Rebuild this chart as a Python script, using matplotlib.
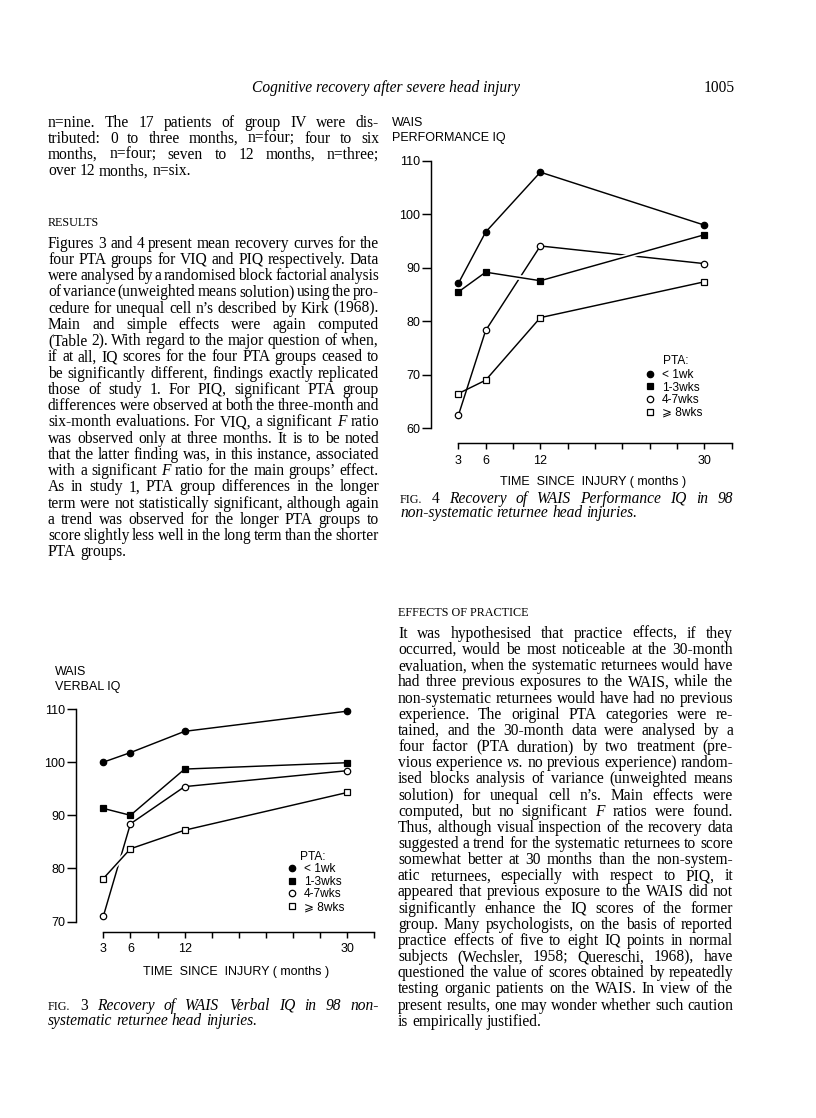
import matplotlib
matplotlib.use('Agg')
import matplotlib.pyplot as plt
from matplotlib.lines import Line2D
import matplotlib.patheffects as pe

# ---- chart data ----
months = [3, 6, 12, 30]
group_labels = ['< 1wk', '1-3wks', '4-7wks', '\u2a7e 8wks']

# Fig 4: WAIS performance IQ
piq_lt1 = [87.1, 96.7, 107.9, 98.0]
piq_1to3 = [85.5, 89.2, 87.6, 96.2]
piq_4to7 = [62.4, 78.3, 94.1, 90.8]
piq_ge8 = [66.5, 69.0, 80.7, 87.4]

# Fig 3: WAIS verbal IQ
viq_lt1 = [100.0, 101.8, 105.8, 109.6]
viq_1to3 = [91.3, 90.0, 98.7, 99.9]
viq_4to7 = [71.0, 88.4, 95.4, 98.4]
viq_ge8 = [78.1, 83.7, 87.2, 94.3]

x_ticks = [3, 6, 9, 12, 15, 18, 21, 24, 27, 30, 33]
x_ticklabels = ['3', '6', '', '12', '', '', '', '', '', '30', '']

# ---- page text ----
header = 'Cognitive recovery after severe head injury'
page_no = '1005'

left_top = [
    'n=nine. The 17 patients of group IV were dis-',
    'tributed: 0 to three months, n=four; four to six',
    'months, n=four; seven to 12 months, n=three;',
    'over 12 months, n=six.',
]
results = [
    'Figures 3 and 4 present mean recovery curves for the',
    'four PTA groups for VIQ and PIQ respectively. Data',
    'were analysed by a randomised block factorial analysis',
    'of variance (unweighted means solution) using the pro-',
    'cedure for unequal cell n\u2019s described by Kirk (1968).',
    'Main and simple effects were again computed',
    '(Table 2). With regard to the major question of when,',
    'if at all, IQ scores for the four PTA groups ceased to',
    'be significantly different, findings exactly replicated',
    'those of study 1. For PIQ, significant PTA group',
    'differences were observed at both the three-month and',
    'six-month evaluations. For VIQ, a significant *F* ratio',
    'was observed only at three months. It is to be noted',
    'that the latter finding was, in this instance, associated',
    'with a significant *F* ratio for the main groups\u2019 effect.',
    'As in study 1, PTA group differences in the longer',
    'term were not statistically significant, although again',
    'a trend was observed for the longer PTA groups to',
    'score slightly less well in the long term than the shorter',
    'PTA groups.',
]
practice = [
    'It was hypothesised that practice effects, if they',
    'occurred, would be most noticeable at the 30-month',
    'evaluation, when the systematic returnees would have',
    'had three previous exposures to the WAIS, while the',
    'non-systematic returnees would have had no previous',
    'experience. The original PTA categories were re-',
    'tained, and the 30-month data were analysed by a',
    'four factor (PTA duration) by two treatment (pre-',
    'vious experience *vs.* no previous experience) random-',
    'ised blocks analysis of variance (unweighted means',
    'solution) for unequal cell n\u2019s. Main effects were',
    'computed, but no significant *F* ratios were found.',
    'Thus, although visual inspection of the recovery data',
    'suggested a trend for the systematic returnees to score',
    'somewhat better at 30 months than the non-system-',
    'atic returnees, especially with respect to PIQ, it',
    'appeared that previous exposure to the WAIS did not',
    'significantly enhance the IQ scores of the former',
    'group. Many psychologists, on the basis of reported',
    'practice effects of five to eight IQ points in normal',
    'subjects (Wechsler, 1958; Quereschi, 1968), have',
    'questioned the value of scores obtained by repeatedly',
    'testing organic patients on the WAIS. In view of the',
    'present results, one may wonder whether such caution',
    'is empirically justified.',
]
cap4 = ['%FIG.% #4# Recovery of WAIS Performance IQ in 98',
        'non-systematic returnee head injuries.']
cap3 = ['%FIG.% #3# Recovery of WAIS Verbal IQ in 98 non-',
        'systematic returnee head injuries.']

W, H = 816, 1118
SERIF = 'Liberation Serif'
SANS = ['Liberation Sans', 'DejaVu Sans']
BODY = 11.2
CHART = 9.0
LEGEND = 8.6
BASE = 4.6  # line centre -> baseline, px

fig = plt.figure(figsize=(W / 100, H / 100), dpi=100)
page = fig.add_axes([0, 0, 1, 1])
page.set_xlim(0, W)
page.set_ylim(H, 0)
page.axis('off')
renderer = fig.canvas.get_renderer()


def px_axes(l, t, r, b):
    return fig.add_axes([l / W, 1 - b / H, (r - l) / W, (b - t) / H])


def set_line(x0, x1, y, line, justify=True, size=BODY, style='normal'):
    texts, widths = [], []
    for w in line.split(' '):
        st, sz = style, size
        if w.startswith('*') and w.endswith('*'):
            w, st = w[1:-1], 'italic'
        elif w.startswith('#') and w.endswith('#'):
            w, st = w[1:-1], 'normal'
        elif w.startswith('%') and w.endswith('%'):
            w, st, sz = w[1:-1], 'normal', size * 0.78
        t = page.text(0, y + BASE, w, fontsize=sz, family=SERIF, style=st,
                      va='baseline', ha='left', color='black')
        texts.append(t)
        widths.append(t.get_window_extent(renderer).width)
    space = size * 100 / 72 * 0.25
    if justify and len(texts) > 1:
        gap = (x1 - x0 - sum(widths)) / (len(texts) - 1)
    else:
        gap = space
    x = x0
    for t, w in zip(texts, widths):
        t.set_x(x)
        x += w + gap


def set_block(x0, x1, y0, dy, lines, style='normal'):
    for i, ln in enumerate(lines):
        set_line(x0, x1, y0 + i * dy, ln, justify=(i < len(lines) - 1), style=style)


LX0, LX1 = 48, 379
RX0, RX1 = 398, 733

page.text(520, 87 + BASE, header, fontsize=BODY, family=SERIF, style='italic',
          ha='right', va='baseline')
page.text(735, 87 + BASE, page_no, fontsize=BODY, family=SERIF, ha='right', va='baseline')

set_block(LX0, LX1, 122, 16.2, left_top)
page.text(LX0, 222 + BASE - 0.5, 'RESULTS', fontsize=BODY * 0.78, family=SERIF, va='baseline')
set_block(LX0, LX1, 243, 16.25, results)

page.text(RX0, 612 + BASE - 0.5, 'EFFECTS OF PRACTICE', fontsize=BODY * 0.78, family=SERIF,
          va='baseline')
set_block(RX0, RX1, 633.3, 16.16, practice)

set_block(RX0 + 2, RX1, 498, 14.5, cap4, style='italic')
set_block(LX0, LX1, 1005, 15, cap3, style='italic')


def draw_chart(ax, series, ymin, ybottom, lab_x, lab_y, leg_x, leg_y, top_series):
    styles = [dict(marker='o', mfc='black', ms=4.6),
              dict(marker='s', mfc='black', ms=4.0),
              dict(marker='o', mfc='white', ms=4.6),
              dict(marker='s', mfc='white', ms=4.0)]
    for i, (vals, st) in enumerate(zip(series, styles)):
        effects = None
        z = 2
        if i == top_series:
            effects = [pe.Stroke(linewidth=3.6, foreground='white'), pe.Normal()]
            z = 3
        ax.plot(months, vals, color='black', lw=1.05, zorder=z, path_effects=effects,
                solid_capstyle='butt')
        ax.plot(months, vals, ls='none', color='black', mec='black', mew=0.9,
                zorder=4, clip_on=False, **st)
    ax.set_xlim(0, 34)
    ax.set_ylim(ybottom, 111)
    for s in ['top', 'right']:
        ax.spines[s].set_visible(False)
    ax.spines['left'].set_bounds(ymin, 110)
    ax.spines['bottom'].set_bounds(3, 33)
    for s in ['left', 'bottom']:
        ax.spines[s].set_linewidth(1.05)
    ax.set_xticks(x_ticks)
    ax.set_xticklabels(x_ticklabels)
    ax.set_yticks(list(range(ymin, 111, 10)))
    ax.tick_params(axis='y', length=6.5, width=1.05, pad=1.2, labelsize=CHART)
    ax.tick_params(axis='x', length=4.3, width=1.05, pad=4.0, labelsize=CHART)
    for lb in ax.get_xticklabels() + ax.get_yticklabels():
        lb.set_family(SANS)
    ax.set_xlabel('TIME  SINCE  INJURY ( months )', fontsize=CHART, family=SANS, va='center')
    ax.xaxis.set_label_coords(lab_x, lab_y)
    ax.patch.set_alpha(0)
    handles = [Line2D([], [], ls='none', color='black', mec='black', mew=0.9, **st)
               for st in styles]
    leg = ax.legend(handles, group_labels, loc='upper left', bbox_to_anchor=(leg_x, leg_y),
                    frameon=False, borderpad=0, borderaxespad=0, handlelength=0.6,
                    handletextpad=0.7, labelspacing=0.05,
                    prop={'family': SANS, 'size': LEGEND})
    return leg


ax4 = px_axes(431, 155.6, 740.8, 443.3)
draw_chart(ax4, [piq_lt1, piq_1to3, piq_4to7, piq_ge8], 60, 57.2,
           0.5216, -0.1335, 0.696, 0.258, top_series=1)
page.text(663, 361, 'PTA:', fontsize=LEGEND, family=SANS, va='center')
page.text(392, 123, 'WAIS', fontsize=CHART, family=SANS, va='center')
page.text(392, 138, 'PERFORMANCE IQ', fontsize=CHART, family=SANS, va='center')

ax3 = px_axes(76.2, 703.7, 383.5, 931.7)
draw_chart(ax3, [viq_lt1, viq_1to3, viq_4to7, viq_ge8], 70, 68.1,
           0.5216, -0.175, 0.69, 0.30, top_series=3)
page.text(300, 857, 'PTA:', fontsize=LEGEND, family=SANS, va='center')
page.text(55, 672, 'WAIS', fontsize=CHART, family=SANS, va='center')
page.text(55, 687, 'VERBAL IQ', fontsize=CHART, family=SANS, va='center')

fig.savefig('out.png', dpi=100)
